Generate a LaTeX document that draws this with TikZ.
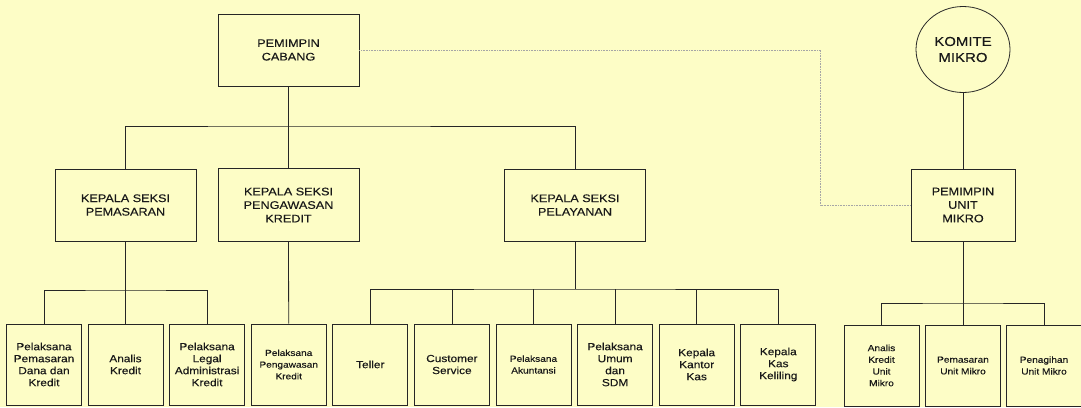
\documentclass[tikz,border=0pt]{standalone}
\usepackage{fontspec}
\usepackage{tikz}
\usetikzlibrary{shapes.geometric}
\newfontfamily\chartfont{Liberation Sans}[FakeStretch=1.15, FakeBold=0.3]
\newcommand{\headfont}{\chartfont\fontsize{11}{13.5}\selectfont}
\newcommand{\komitefont}{\chartfont\fontsize{13}{16}\selectfont}
\newcommand{\stafffont}{\chartfont\fontsize{10.3}{12}\selectfont}
\newcommand{\smallstafffont}{\chartfont\fontsize{8.8}{11.7}\selectfont}
\definecolor{paper}{RGB}{253,253,198}

\begin{document}
\begin{tikzpicture}[x=1pt, y=1pt, color=black!85, line width=0.8pt,
	headbox/.style={draw, rectangle, minimum width=141pt, minimum height=72pt, align=center, text=black!90, font=\headfont},
	staffbox/.style={draw, rectangle, minimum width=75pt, minimum height=81pt, align=center, inner sep=1pt, text=black!90, font=\stafffont}]
	\fill[paper] (0,0) rectangle (1081,-407);
	\useasboundingbox (0,0) rectangle (1081,-407);
	
	\node[headbox](PC) at (288.5,-50){PEMIMPIN\\CABANG};
	\node[headbox, below of=PC, node distance=155pt, minimum height=73pt](KS2){KEPALA SEKSI\\PENGAWASAN\\KREDIT};
	\node[headbox, left of=KS2, node distance=163pt](KS1){KEPALA SEKSI\\PEMASARAN};
	\node[headbox, right of=KS2, node distance=286.5pt](KS3){KEPALA SEKSI\\PELAYANAN};
	\node[headbox, right of=KS3, node distance=388pt, minimum width=104pt](PUM){PEMIMPIN\\UNIT\\MIKRO};
	\node[draw, ellipse, above of=PUM, node distance=155.5pt, minimum width=94pt, minimum height=86pt, align=center, inner sep=0pt, text=black!90, font=\komitefont](KM){KOMITE\\MIKRO};
	
	\node[staffbox, below of=KS1, node distance=159.5pt](B2){Analis\\Kredit};
	\node[staffbox, left of=B2, node distance=81.5pt](B1){Pelaksana\\Pemasaran\\Dana dan\\Kredit};
	\node[staffbox, right of=B2, node distance=81.6pt](B3){Pelaksana\\Legal\\Administrasi\\Kredit};
	\node[staffbox, right of=B3, node distance=81.6pt, font=\smallstafffont](B4){Pelaksana\\Pengawasan\\Kredit};
	\node[staffbox, right of=B4, node distance=81.6pt](B5){Teller};
	\node[staffbox, right of=B5, node distance=81.6pt](B6){Customer\\Service};
	\node[staffbox, right of=B6, node distance=81.6pt, font=\smallstafffont](B7){Pelaksana\\Akuntansi};
	\node[staffbox, right of=B7, node distance=81.6pt](B8){Pelaksana\\Umum\\dan\\SDM};
	\node[staffbox, right of=B8, node distance=81.6pt](B9){Kepala\\Kantor\\Kas};
	\node[staffbox, right of=B9, node distance=81.6pt](B10){Kepala\\Kas\\Keliling};
	
	\node[staffbox, below of=PUM, node distance=160.5pt, font=\smallstafffont](B12){Pemasaran\\Unit Mikro};
	\node[staffbox, left of=B12, node distance=81.5pt, font=\smallstafffont](B11){Analis\\Kredit\\Unit\\Mikro};
	\node[staffbox, right of=B12, node distance=81pt, font=\smallstafffont](B13){Penagihan\\Unit Mikro};
	
	% bus points
	\coordinate[below of=PC, node distance=76pt](J0);
	\coordinate[below of=KS1, node distance=85pt](J1);
	\coordinate[below of=KS3, node distance=84pt](J3);
	\coordinate[below of=PUM, node distance=98pt](J4);
	\coordinate[left of=PUM, node distance=142.5pt](J5);
	
	\draw (PC.south) -- (KS2.north);
	\draw (KS1.north) |- (J0) -| (KS3.north);
	
	\draw (KS1.south) -- (B2.north);
	\draw (B1.north) |- (J1) -| (B3.north);
	
	\draw (KS2.south) -- (B4.north);
	
	\draw (KS3.south) -- (J3);
	\draw (B5.north) |- (J3) -| (B10.north);
	\draw (B6.north) -- (B6.north |- J3);
	\draw (B7.north) -- (B7.north |- J3);
	\draw (B8.north) -- (B8.north |- J3);
	\draw (B9.north) -- (B9.north |- J3);
	
	\draw (KM.south) -- (PUM.north);
	\draw (PUM.south) -- (B12.north);
	\draw (B11.north) |- (J4) -| (B13.north);
	
	\draw[gray!70, densely dotted, line width=0.6pt] (PC.east) -| (J5) |- (PUM.west);
\end{tikzpicture}
\end{document}
